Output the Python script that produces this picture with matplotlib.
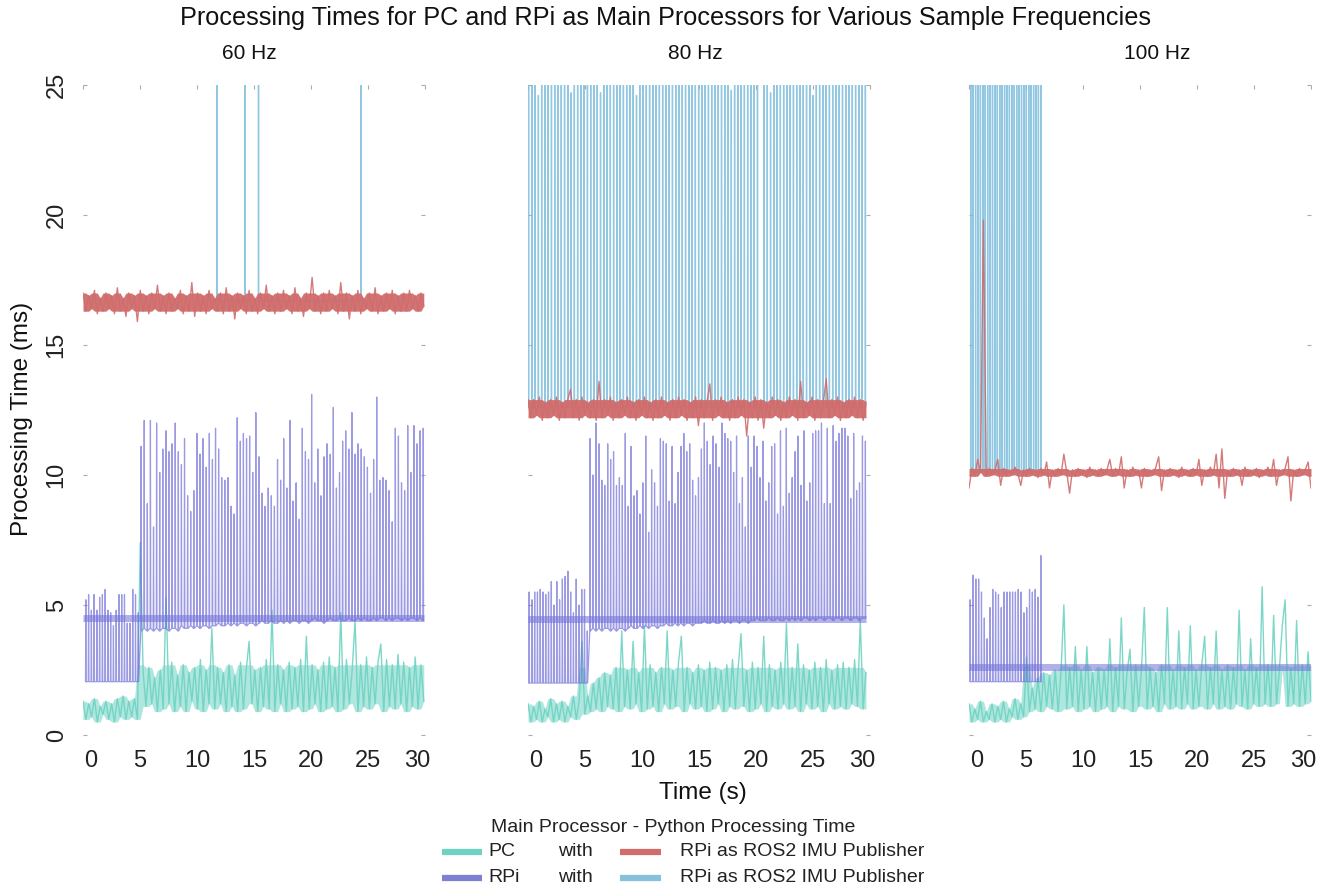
import numpy as np
import matplotlib
matplotlib.use("Agg")
import matplotlib.pyplot as plt
from matplotlib.lines import Line2D
from matplotlib.transforms import ScaledTranslation

plt.rcParams['font.family'] = ['Liberation Sans', 'DejaVu Sans']

TEAL = '#6ed3c3'
PURPLE = '#7170d8'
RED = '#d06c6c'
BLUE = '#7fbedd'

freqs = ['60 Hz', '80 Hz', '100 Hz']
t_end = [29.9, 29.65, 30.0]

# ---------------- 60 Hz ----------------
teal60 = [1.3, 0.6, 1.2, 0.7, 1.4, 0.5, 1.1, 0.8, 1.3, 0.6,
          1.2, 0.5, 1.4, 0.7, 1.5, 0.6, 1.3, 0.7, 1.4, 0.6,
          7.4, 2.4, 1.1, 2.6, 1.2, 2.2, 0.9, 2.5, 1.0, 5.3,
          1.2, 2.8, 0.9, 2.3, 1.1, 2.7, 0.9, 2.4, 1.3, 2.6,
          1.0, 2.9, 0.9, 2.5, 1.2, 4.1, 1.0, 2.6, 1.2, 2.4,
          0.9, 2.7, 1.1, 2.3, 0.9, 2.8, 1.0, 2.5, 3.6, 1.2,
          2.5, 0.9, 2.6, 1.1, 2.9, 1.0, 4.8, 0.9, 2.7, 1.2,
          2.5, 0.9, 2.8, 1.0, 2.6, 1.1, 2.9, 0.9, 3.8, 1.0,
          2.7, 1.2, 2.5, 0.9, 2.8, 1.0, 3.0, 1.1, 2.6, 0.9,
          4.7, 1.0, 2.9, 1.2, 2.5, 4.4, 0.9, 2.7, 1.1, 3.0,
          1.0, 2.6, 1.2, 2.8, 3.5, 0.9, 2.9, 1.1, 2.7, 1.0,
          3.1, 1.2, 2.8, 0.9, 2.6, 1.1, 3.0, 1.0, 2.7, 1.3]

red60 = [17.0, 16.3, 16.9, 16.4, 17.1, 16.2, 16.8, 16.3, 17.0, 16.4,
         16.9, 16.2, 17.2, 16.3, 16.8, 16.1, 17.0, 16.4, 16.9, 15.9,
         17.1, 16.3, 16.9, 16.2, 17.0, 16.4, 17.3, 16.3, 16.9, 16.2,
         17.0, 16.3, 16.8, 16.4, 17.1, 16.2, 16.9, 16.3, 17.4, 16.1,
         17.0, 16.3, 16.9, 16.2, 17.1, 16.4, 16.8, 16.3, 17.0, 16.2,
         17.2, 16.3, 16.9, 16.0, 17.0, 16.4, 16.9, 16.2, 17.1, 16.3,
         16.8, 16.2, 17.0, 16.4, 17.3, 16.3, 16.9, 16.2, 17.0, 16.3,
         17.1, 16.4, 16.9, 16.2, 17.2, 16.3, 16.8, 16.1, 17.0, 16.4,
         17.6, 16.3, 16.9, 16.2, 17.0, 16.3, 17.1, 16.4, 16.9, 16.2,
         17.4, 16.3, 17.0, 16.0, 16.9, 16.3, 17.1, 16.2, 16.8, 16.4,
         17.0, 16.3, 17.2, 16.2, 16.9, 16.3, 17.0, 16.4, 17.1, 16.2,
         16.9, 16.3, 17.0, 16.3, 17.1, 16.4, 16.9, 16.3, 17.0, 16.5]

rpi60_a_tops = [5.2, 5.4, 4.8, 5.4, 4.8, 5.3, 5.4, 5.6, 4.8, 4.7,
                4.2, 4.8, 5.4, 5.4, 5.4, 4.3, 4.3, 5.6, 5.4, 4.7]
rpi60_a_base = 2.05
rpi60_b_tops = [11.1, 12.1, 8.9, 12.1, 8.0, 12.0, 10.1, 11.0, 11.7, 10.9,
                11.2, 12.0, 10.9, 10.4, 11.4, 9.2, 8.6, 9.4, 11.6, 10.8,
                11.4, 10.3, 11.6, 10.6, 11.8, 11.0, 9.9, 9.8, 9.9, 8.8,
                8.5, 12.2, 11.3, 11.6, 11.4, 11.5, 10.1, 12.4, 10.7, 9.3,
                8.8, 9.5, 9.2, 8.8, 10.6, 9.8, 11.4, 9.5, 12.1, 9.0,
                9.7, 8.3, 11.8, 10.9, 10.6, 13.1, 9.7, 11.0, 9.2, 10.7,
                11.2, 10.8, 12.6, 9.5, 10.1, 11.3, 11.7, 11.0, 12.4, 10.8,
                11.2, 11.0, 10.7, 10.3, 9.3, 10.6, 13.0, 9.8, 9.9, 9.8,
                9.4, 8.2, 11.8, 11.5, 9.7, 9.4, 11.9, 10.1, 11.9, 11.2,
                11.7, 11.8]
rpi60_b_base = [4.0, 4.1, 4.0, 4.1, 4.0, 4.1, 4.0, 4.1, 4.1, 4.0,
                4.1, 4.1, 4.0, 4.2, 4.1, 4.1, 4.2, 4.1, 4.2, 4.1,
                4.2, 4.2, 4.1, 4.2, 4.2, 4.3, 4.2, 4.2, 4.3, 4.2,
                4.3, 4.2, 4.3, 4.3, 4.2, 4.3, 4.3, 4.2, 4.3, 4.4,
                4.3, 4.3, 4.4, 4.3, 4.3, 4.4, 4.3, 4.4, 4.3, 4.4,
                4.4, 4.3, 4.4, 4.4, 4.3, 4.4, 4.5, 4.4, 4.4, 4.3,
                4.4, 4.5, 4.4, 4.4, 4.5, 4.4, 4.4, 4.5, 4.4, 4.4,
                4.5, 4.4, 4.5, 4.4, 4.4, 4.5, 4.4, 4.5, 4.5, 4.4,
                4.5, 4.4, 4.5, 4.5, 4.4, 4.5, 4.4, 4.5, 4.5, 4.4,
                4.5, 4.4]
rpi60_mean = 4.5

blue60_times = [11.75, 14.2, 15.4, 24.4]
blue60_tops = [38, 31, 45, 29]
blue60_base = 16.7

# ---------------- 80 Hz ----------------
teal80 = [1.2, 0.5, 1.1, 0.6, 1.3, 0.5, 1.0, 0.7, 1.4, 0.5,
          1.2, 0.6, 1.3, 0.5, 1.1, 0.7, 1.5, 0.6, 1.3, 3.6,
          0.8, 1.5, 0.9, 2.0, 1.0, 2.2, 0.9, 2.4, 1.1, 2.3,
          1.0, 2.6, 0.9, 4.0, 1.1, 2.5, 1.0, 3.6, 1.2, 2.4,
          0.9, 4.2, 1.0, 2.7, 1.1, 2.4, 0.9, 2.6, 1.2, 4.0,
          1.0, 2.5, 1.1, 2.8, 3.8, 0.9, 2.6, 1.2, 2.4, 1.0,
          2.7, 1.1, 2.5, 0.9, 2.8, 1.0, 2.6, 1.2, 2.5, 0.9,
          2.7, 1.1, 2.9, 1.0, 2.6, 3.9, 1.1, 2.5, 0.9, 2.8,
          1.0, 2.6, 1.2, 3.8, 0.9, 2.7, 1.1, 2.5, 1.0, 2.8,
          1.2, 4.3, 1.0, 2.6, 1.1, 3.5, 0.9, 2.7, 1.2, 2.5,
          1.0, 2.8, 1.1, 2.6, 0.9, 2.9, 1.2, 2.5, 1.0, 2.7,
          1.1, 2.8, 1.0, 2.6, 1.2, 2.9, 1.1, 4.4, 1.0, 2.4]

red80 = [12.9, 12.2, 12.9, 12.3, 13.0, 12.1, 12.8, 12.2, 12.9, 12.3,
         13.0, 12.1, 12.8, 12.2, 12.9, 13.3, 12.2, 12.9, 12.1, 13.0,
         12.3, 12.8, 12.2, 12.9, 12.1, 13.6, 12.2, 12.9, 12.3, 13.0,
         12.1, 12.8, 12.2, 12.9, 12.3, 13.0, 12.2, 12.8, 12.1, 12.9,
         12.3, 13.0, 12.2, 12.8, 12.1, 12.9, 12.2, 13.0, 12.3, 12.8,
         12.1, 12.9, 12.2, 13.0, 12.3, 12.9, 12.1, 12.8, 12.2, 13.0,
         11.9, 12.9, 12.2, 12.8, 13.5, 12.1, 12.9, 12.3, 13.0, 12.2,
         12.8, 12.1, 12.9, 12.2, 13.0, 12.3, 12.9, 11.5, 12.8, 12.2,
         13.0, 12.1, 12.9, 11.8, 12.8, 12.2, 13.0, 12.3, 12.9, 12.1,
         12.8, 12.2, 13.0, 12.3, 12.9, 12.1, 13.6, 12.2, 12.8, 12.3,
         13.0, 12.1, 12.9, 12.2, 12.8, 13.7, 12.2, 12.9, 12.3, 13.0,
         12.1, 12.8, 12.2, 12.9, 12.3, 13.0, 12.2, 12.9, 12.1, 12.8]

rpi80_a_tops = [5.5, 5.2, 5.5, 5.5, 5.6, 5.5, 5.4, 5.5, 5.9, 5.0,
                5.9, 5.2, 6.0, 6.1, 6.3, 5.5, 4.7, 6.0, 5.0, 5.6,
                5.6, 4.0]
rpi80_a_base = 2.0
rpi80_b_tops = [11.4, 10.0, 12.0, 11.2, 9.8, 9.6, 11.2, 10.6, 10.9, 9.6,
                9.9, 9.6, 11.6, 8.8, 11.1, 9.2, 9.4, 8.5, 9.7, 11.5,
                7.8, 10.2, 9.7, 8.8, 11.4, 11.3, 11.2, 9.0, 11.1, 8.9,
                10.1, 11.1, 11.6, 10.9, 11.2, 9.8, 9.2, 9.9, 11.0, 12.0,
                11.3, 10.4, 11.5, 11.2, 10.3, 12.0, 11.6, 11.4, 11.3, 10.1,
                11.5, 8.9, 9.9, 8.0, 11.5, 10.3, 11.5, 11.1, 9.9, 11.3,
                9.0, 9.7, 11.1, 11.2, 8.5, 11.7, 8.8, 11.8, 9.3, 9.9,
                10.9, 11.5, 9.6, 11.7, 9.0, 9.7, 11.6, 11.7, 11.7, 12.0,
                8.9, 11.8, 8.9, 11.9, 11.3, 11.6, 11.8, 11.8, 11.5, 9.1,
                11.6, 9.4, 9.7, 11.5, 11.3]
rpi80_b_base = [4.0, 4.1, 4.0, 4.1, 4.0, 4.1, 4.1, 4.0, 4.1, 4.0,
                4.1, 4.1, 4.0, 4.1, 4.2, 4.1, 4.1, 4.2, 4.1, 4.2,
                4.1, 4.2, 4.2, 4.1, 4.2, 4.2, 4.3, 4.2, 4.2, 4.3,
                4.2, 4.3, 4.2, 4.3, 4.3, 4.2, 4.3, 4.3, 4.3, 4.4,
                4.3, 4.3, 4.4, 4.3, 4.3, 4.4, 4.3, 4.4, 4.3, 4.4,
                4.4, 4.3, 4.4, 4.4, 4.3, 4.4, 4.4, 4.5, 4.4, 4.4,
                4.4, 4.5, 4.4, 4.4, 4.5, 4.4, 4.4, 4.5, 4.4, 4.5,
                4.4, 4.5, 4.4, 4.5, 4.5, 4.4, 4.5, 4.4, 4.5, 4.5,
                4.4, 4.5, 4.5, 4.4, 4.5, 4.5, 4.4, 4.5, 4.5, 4.4,
                4.5, 4.5, 4.4, 4.5, 4.5]
rpi80_mean = 4.45

blue80_tops = [30, 28, 31, 24.6, 29, 33, 30, 27, 32, 30,
               29, 31, 28, 24.7, 30, 32, 29, 30, 27, 31,
               30, 28, 24.7, 32, 29, 31, 30, 28, 30, 33,
               29, 30, 31, 24.6, 28, 30, 32, 29, 30, 31,
               27, 30, 29, 32, 30, 28, 31, 30, 29, 33,
               30, 28, 31, 29, 30, 32, 28, 30, 31, 29,
               30, 33, 24.8, 29, 31, 30, 28, 32, 30, 29,
               31, 12.6, 28, 30, 24.7, 32, 29, 30, 31, 28,
               30, 29, 32, 30, 31, 28, 30, 24.6, 29, 31,
               30, 32, 28, 30, 29, 31, 30, 28, 32, 30,
               29, 31, 30, 29]
blue80_base = 12.6

# ---------------- 100 Hz ----------------
teal100 = [1.2, 0.5, 1.0, 0.6, 1.3, 0.5, 0.9, 0.6, 1.2, 0.5,
           1.1, 0.6, 1.3, 0.5, 1.0, 0.7, 1.4, 0.6, 1.2, 0.7,
           3.0, 0.9, 1.8, 1.0, 2.2, 0.9, 2.4, 1.1, 2.3, 1.0,
           2.5, 0.9, 2.4, 5.0, 1.0, 2.6, 1.1, 3.4, 0.9, 2.5,
           1.0, 3.4, 1.1, 2.4, 0.9, 2.6, 1.0, 2.5, 1.1, 3.7,
           0.9, 2.6, 1.1, 4.5, 1.0, 2.4, 3.3, 0.9, 2.7, 1.1,
           2.5, 4.9, 1.0, 2.6, 1.1, 2.4, 0.9, 2.7, 1.2, 4.9,
           1.0, 2.5, 1.1, 4.0, 1.0, 2.6, 1.2, 4.2, 1.0, 2.5,
           1.1, 2.7, 3.8, 1.0, 2.6, 1.2, 4.0, 1.0, 2.5, 1.1,
           2.7, 1.0, 2.6, 1.2, 4.8, 1.1, 2.5, 1.0, 3.7, 1.2,
           2.6, 1.1, 5.7, 1.2, 2.7, 1.1, 4.6, 1.2, 2.5, 4.2,
           5.2, 1.1, 2.6, 1.2, 4.4, 1.1, 2.7, 1.2, 3.2, 1.3]

red100 = [9.5, 10.25, 9.95, 10.6, 10.1, 19.8, 9.95, 10.25, 10.0, 10.2,
          10.6, 9.6, 10.25, 9.95, 10.2, 10.0, 10.3, 10.05, 9.6, 10.2,
          9.95, 10.25, 10.0, 10.2, 9.9, 10.25, 10.0, 10.5, 9.5, 10.2,
          9.95, 10.25, 10.0, 10.8, 10.1, 9.3, 10.2, 9.95, 10.25, 10.0,
          10.2, 9.9, 10.3, 10.0, 10.2, 9.95, 10.25, 10.0, 10.2, 10.6,
          9.95, 10.25, 10.0, 10.7, 9.5, 10.2, 9.95, 10.3, 10.0, 10.2,
          9.5, 10.25, 9.95, 10.2, 10.0, 10.3, 10.7, 9.4, 10.2, 9.95,
          10.25, 10.0, 10.2, 9.9, 10.3, 10.0, 10.2, 9.95, 10.25, 10.0,
          10.6, 9.6, 10.2, 9.95, 10.3, 10.0, 10.8, 9.5, 11.0, 9.1,
          10.2, 9.95, 10.25, 10.0, 10.2, 9.6, 10.3, 9.95, 10.2, 10.0,
          10.25, 9.9, 10.2, 10.0, 10.3, 9.95, 10.6, 9.6, 10.2, 10.0,
          10.25, 10.7, 9.0, 10.2, 9.95, 10.25, 10.0, 10.2, 10.5, 9.5]

rpi100_tops = [5.2, 6.15, 6.0, 6.0, 5.5, 4.5, 3.7, 4.9, 5.6, 5.5,
               5.4, 4.9, 5.5, 5.5, 5.5, 5.5, 5.5, 5.6, 5.5, 4.7,
               4.9, 5.6, 5.5, 5.6, 5.3, 6.9]
rpi100_base = 2.05
rpi100_mean = 2.6

blue100_tops = [30, 32, 29, 31, 28, 30, 33, 29, 31, 30,
                28, 32, 30, 29, 31, 30, 27, 32, 30, 29,
                31, 28, 30, 33, 29, 30, 31, 28, 32, 30]
blue100_base = 10.1


def spikes(ts, tops, base, half):
    # each spike rises from the baseline to its top and drops back
    ts = np.asarray(ts, float)
    b = np.broadcast_to(np.asarray(base, float), ts.shape)
    t = np.column_stack([ts - half, ts, ts + half]).ravel()
    v = np.column_stack([b, np.asarray(tops, float), b]).ravel()
    return t, v


def rpi_series(a_span, a_tops, a_base, b_span, b_tops, b_base):
    ta, va = spikes(np.linspace(*a_span, len(a_tops)), a_tops, a_base, 0.03)
    if b_tops is None:
        return ta, va
    tb, vb = spikes(np.linspace(*b_span, len(b_tops)), b_tops, b_base, 0.03)
    return np.concatenate([ta, tb]), np.concatenate([va, vb])


def noisy_band(ax, t_stop, vals, color, lw, fill_alpha, z, clip_low=True):
    # dense sampled signal: shade the local min/max envelope (outliers
    # left out) and draw the trace itself on top
    v = np.asarray(vals, float)
    t = np.linspace(0, t_stop, len(v))
    vp = np.pad(v, 1, mode='edge')
    hi = np.maximum(np.maximum(vp[:-2], vp[1:-1]), vp[2:])
    lo = np.minimum(np.minimum(vp[:-2], vp[1:-1]), vp[2:])
    lo_cut, hi_cut = np.percentile(v, [25, 78])
    hi = np.minimum(hi, hi_cut)
    if clip_low:
        lo = np.maximum(lo, lo_cut)
    lo = np.minimum(lo, hi)
    ax.fill_between(t, lo, hi, color=color, lw=0, alpha=fill_alpha, zorder=z)
    ax.plot(t, v, color=color, lw=lw, alpha=0.9, zorder=z)


panels = [
    dict(teal=teal60, red=red60, mean=rpi60_mean,
         rpi=rpi_series((0.25, 4.85), rpi60_a_tops, rpi60_a_base,
                        (5.1, 29.85), rpi60_b_tops, rpi60_b_base),
         blue=spikes(blue60_times, blue60_tops, blue60_base, 0.01)),
    dict(teal=teal80, red=red80, mean=rpi80_mean,
         rpi=rpi_series((0.1, 5.2), rpi80_a_tops, rpi80_a_base,
                        (5.45, 29.6), rpi80_b_tops, rpi80_b_base),
         blue=spikes(np.linspace(0.05, 29.6, len(blue80_tops)),
                     blue80_tops, blue80_base, 0.01)),
    dict(teal=teal100, red=red100, mean=rpi100_mean,
         rpi=rpi_series((0.1, 6.3), rpi100_tops, rpi100_base,
                        None, None, None),
         blue=spikes(np.linspace(0.15, 6.3, len(blue100_tops)),
                     blue100_tops, blue100_base, 0.01)),
]

fig = plt.figure(figsize=(13.3, 8.9), dpi=100)
lefts = [0.0624, 0.3970, 0.7286]

for i, p in enumerate(panels):
    ax = fig.add_axes([lefts[i], 0.1742, 0.2571, 0.7303])
    te = t_end[i]

    noisy_band(ax, te, p['teal'], TEAL, 1.0, 0.55, 1, clip_low=False)
    ax.plot(*p['rpi'], color=PURPLE, lw=0.9, alpha=0.7, zorder=2)
    ax.plot([0, te], [p['mean'], p['mean']], color=PURPLE, lw=5,
            alpha=0.55, solid_capstyle='butt', zorder=3)
    ax.plot(*p['blue'], color=BLUE, lw=1.0, alpha=0.85, zorder=4)
    noisy_band(ax, te, p['red'], RED, 1.0, 0.95, 5)

    ax.set_xlim(0, 30)
    ax.set_ylim(0, 25)
    ax.set_xticks([0, 5, 10, 15, 20, 25, 30])
    ax.set_yticks([0, 5, 10, 15, 20, 25])
    for s in ax.spines.values():
        s.set_visible(False)
    ax.tick_params(axis='x', bottom=False, top=True, direction='in',
                   length=3, color='#aaaaaa', labelsize=17, pad=11,
                   labelcolor='#222222')
    ax.tick_params(axis='y', left=True, right=True, direction='in',
                   length=3, color='#aaaaaa', labelsize=17, pad=11,
                   labelcolor='#222222', labelrotation=90,
                   labelleft=(i == 0))
    if i == 0:
        for lab in ax.get_yticklabels():
            lab.set_verticalalignment('center')
    xl = ax.get_xticklabels()
    xl[0].set_transform(xl[0].get_transform() +
                        ScaledTranslation(0.08, 0, fig.dpi_scale_trans))
    xl[-1].set_transform(xl[-1].get_transform() +
                         ScaledTranslation(-0.08, 0, fig.dpi_scale_trans))

fig.text(0.5, 0.9798, 'Processing Times for PC and RPi as Main Processors for Various Sample Frequencies',
         ha='center', va='center', fontsize=18.2, color='#111111')
for x, f in zip([0.1872, 0.5226, 0.8699], freqs):
    fig.text(x, 0.9404, f, ha='center', va='center', fontsize=15, color='#111111')
fig.text(0.5286, 0.109, 'Time (s)', ha='center', va='center', fontsize=17.5, color='#111111')
fig.text(0.0165, 0.529, 'Processing Time (ms)', ha='center', va='center',
         rotation=90, fontsize=17.5, color='#111111')

# legend laid out as a small grid under the x label
fig.text(0.506, 0.0697, 'Main Processor - Python Processing Time', ha='center',
         va='center', fontsize=14, color='#222222')
rows = [(0.0427, 'PC', TEAL, RED), (0.0135, 'RPi', '#7b80d2', '#86c1dc')]
for y, name, c_main, c_pub in rows:
    fig.add_artist(Line2D([0.3323, 0.3624], [y, y], transform=fig.transFigure,
                          color=c_main, lw=4.5, solid_capstyle='butt'))
    fig.add_artist(Line2D([0.4662, 0.4970], [y, y], transform=fig.transFigure,
                          color=c_pub, lw=4.5, solid_capstyle='butt'))
    fig.text(0.3669, y, name, ha='left', va='center', fontsize=14, color='#222222')
    fig.text(0.4195, y, 'with', ha='left', va='center', fontsize=14, color='#222222')
    fig.text(0.5113, y, 'RPi as ROS2 IMU Publisher', ha='left', va='center',
             fontsize=14, color='#222222')

fig.savefig('out.png', dpi=100, facecolor='white')
